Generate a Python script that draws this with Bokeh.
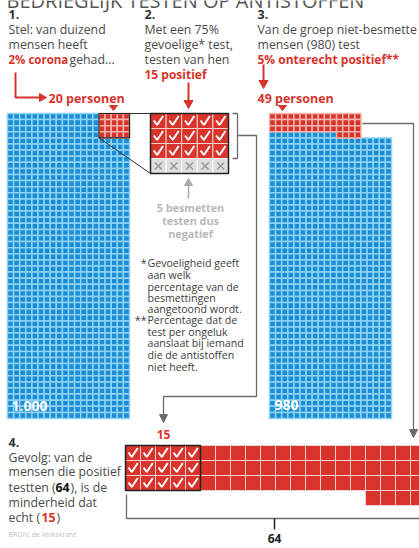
from bokeh.plotting import figure
from bokeh.models import Range1d
from bokeh.core.properties import value
from bokeh.embed import file_html
from bokeh.resources import INLINE

# ---------------- data ----------------
total_people = 1000
infected = 20
healthy = 980
true_positive = 15
false_negative = 5
false_positive = 49
all_positive = 64
grid_cols = 20
label_total = "1.000"
label_healthy = "980"
label_positive = "64"
label_tp = "15"
title = "BEDRIEGLIJK TESTEN OP ANTISTOFFEN"

RED = "#d8342b"
RED_GAP = "#f1b3ad"
BLUE = "#1c8cd4"
BLUE_GAP = "#8dd3f3"
GREY_TXT = "#4a4a4a"
LIGHT_TXT = "#b8b8b8"
LINE_GREY = "#6b6b6b"
FONT = value("Open Sans")
BODY = 12.3

p = figure(width=419, height=548, x_range=Range1d(0, 419), y_range=Range1d(548, 0),
           output_backend="svg", toolbar_location=None, min_border=0)
p.axis.visible = False
p.grid.visible = False
p.outline_line_color = None
p.background_fill_color = "white"


def cells(positions, x0, y0, cw, ch):
    xs = [x0 + (c + 0.5) * cw for c, r in positions]
    ys = [y0 + (r + 0.5) * ch for c, r in positions]
    return xs, ys


def draw_cells(positions, x0, y0, cw, ch, fill, gap, lw=1.0):
    xs, ys = cells(positions, x0, y0, cw, ch)
    p.rect(xs, ys, width=cw, height=ch, fill_color=fill, line_color=gap, line_width=lw)
    return xs, ys


def txt(x, y, s, size=BODY, color=GREY_TXT, bold=False, align="left", baseline="middle"):
    p.text([x], [y], text=[s], text_font=FONT, text_font_size=f"{size}px",
           text_color=color, text_font_style="bold" if bold else "normal",
           text_align=align, text_baseline=baseline)


# title (only its lower part is visible at the top edge, as in the original crop)
txt(6, 0, title, size=20, color="#555555", baseline="middle")

# ---------------- block 1: 1000 people ----------------
rows_total = total_people // grid_cols
inf_cols = 5
inf_rows = infected // inf_cols
inf_pos = [(grid_cols - inf_cols + i % inf_cols, i // inf_cols) for i in range(infected)]
inf_set = set(inf_pos)
rest_pos = [(c, r) for r in range(rows_total) for c in range(grid_cols) if (c, r) not in inf_set][:healthy]

C = 6.1
X1, Y1 = 7, 113
draw_cells(rest_pos, X1, Y1, C, C, BLUE, BLUE_GAP, 1.5)
draw_cells(inf_pos, X1, Y1, C, C, RED, RED_GAP, 1.5)
ix0 = X1 + (grid_cols - inf_cols) * C
p.quad(left=[ix0], right=[X1 + grid_cols * C], top=[Y1], bottom=[Y1 + inf_rows * C],
       fill_color=None, line_color="#222222", line_width=1.2)
txt(11, 405, label_total, size=14, color="white", bold=True)

# ---------------- block 3: 980 healthy ----------------
X3 = 269
fp_cols = 15
fp_full_rows = false_positive // fp_cols
fp_extra = false_positive - fp_full_rows * fp_cols
fp_pos = [(i % fp_cols, i // fp_cols) for i in range(fp_full_rows * fp_cols)]
fp_pos += [(fp_cols - fp_extra + i, fp_full_rows) for i in range(fp_extra)]
fp_set = set(fp_pos)
blue3 = [pos for pos in rest_pos if pos not in fp_set]
draw_cells(blue3, X3, Y1, C, C, BLUE, BLUE_GAP, 1.5)
draw_cells(fp_pos, X3, Y1, C, C, RED, RED_GAP, 1.5)
txt(274, 404, label_healthy, size=14, color="white", bold=True)

# ---------------- block 2: zoom of infected ----------------
ZW, ZH = 15.6, 15.0
X2, Y2 = 150, 113
tp_pos = [(i % inf_cols, i // inf_cols) for i in range(true_positive)]
fn_pos = [(i % inf_cols, true_positive // inf_cols + i // inf_cols) for i in range(false_negative)]
txs, tys = draw_cells(tp_pos, X2, Y2, ZW, ZH, RED, "#f6d0cc", 1.0)
fxs, fys = draw_cells(fn_pos, X2, Y2, ZW, ZH, "#dedede", "#ffffff", 1.0)
p.multi_line([[x - 4.5, x - 1.2, x + 4.8] for x in txs], [[y - 0.5, y + 4, y - 5] for y in tys],
             line_color="white", line_width=2)
p.multi_line([[x - 3.5, x + 3.5] for x in fxs] + [[x - 3.5, x + 3.5] for x in fxs],
             [[y - 3.5, y + 3.5] for y in fys] + [[y + 3.5, y - 3.5] for y in fys],
             line_color="#9a9a9a", line_width=1.6)
p.quad(left=[X2], right=[X2 + inf_cols * ZW], top=[Y2], bottom=[Y2 + inf_rows * ZH],
       fill_color=None, line_color="#222222", line_width=1.5)
p.multi_line([[X1 + grid_cols * C, X2], [ix0, X2]],
             [[Y1, Y2], [Y1 + inf_rows * C, Y2 + inf_rows * ZH]],
             line_color="#333333", line_width=1)

# bracket and connector to bottom
p.line([232, 237, 237, 232], [113, 113, 158, 158], line_color=LINE_GREY, line_width=1.3)
p.line([237, 256, 256, 163, 163], [135, 135, 396, 396, 416], line_color=LINE_GREY, line_width=1.3)
p.patches([[159, 167, 163]], [[414, 414, 422]], fill_color=LINE_GREY, line_color=LINE_GREY)

# up arrow (grey)
p.line([188, 188], [198, 182], line_color="#aaaaaa", line_width=1.5)
p.patches([[184, 192, 188]], [[185, 185, 178]], fill_color="#aaaaaa", line_color="#aaaaaa")

# ---------------- red pointer arrows ----------------
p.line([15, 15, 40], [72, 97, 97], line_color=RED, line_width=2)
p.patches([[39, 39, 46]], [[93, 101, 97]], fill_color=RED, line_color=RED)
p.line([188, 188], [82, 102], line_color=RED, line_width=2)
p.patches([[183.5, 192.5, 188]], [[100, 100, 108]], fill_color=RED, line_color=RED)
p.line([263, 263], [64, 82], line_color=RED, line_width=2)
p.patches([[258.5, 267.5, 263]], [[80, 80, 88]], fill_color=RED, line_color=RED)
p.patches([[109, 117, 113], [278, 286, 282]], [[105, 105, 110], [105, 105, 110]],
          fill_color=RED, line_color=RED)

# 980 -> bottom connector
p.line([362, 413, 413], [123, 123, 431], line_color=LINE_GREY, line_width=1.3)
p.patches([[409, 417, 413]], [[429, 429, 437]], fill_color=LINE_GREY, line_color=LINE_GREY)

# ---------------- block 4: 64 positives ----------------
BW = 15.0
X4, Y4 = 125, 445
tp4 = [(i % inf_cols, i // inf_cols) for i in range(true_positive)]
fp4 = [(inf_cols + c, r) for c, r in fp_pos]
draw_cells(fp4, X4, Y4, BW, BW, RED, "#f6d0cc", 1.0)
bx, by = draw_cells(tp4, X4, Y4, BW, BW, RED, "#f6d0cc", 1.0)
p.multi_line([[x - 4.5, x - 1.2, x + 4.8] for x in bx], [[y - 0.5, y + 4, y - 5] for y in by],
             line_color="white", line_width=2)
p.quad(left=[X4], right=[X4 + inf_cols * BW], top=[Y4], bottom=[Y4 + 3 * BW],
       fill_color=None, line_color="#222222", line_width=1.5)
txt(163, 434, label_tp, size=12, color=RED, bold=True, align="center")

# bracket for 64
p.line([126, 126, 419], [494, 518, 518], line_color=LINE_GREY, line_width=1.3)
p.line([274, 274], [518, 529], line_color="#222222", line_width=1.5)
txt(274, 538, label_positive, size=12, color="#222222", bold=True, align="center")

# ---------------- texts ----------------
txt(8, 14, "1.", size=12.5, color="#333333", bold=True)
txt(8, 29, "Stel: van duizend")
txt(8, 44, "mensen heeft")
txt(8, 59, "2% corona", size=11.5, color=RED, bold=True)
txt(69, 59, "gehad...")
txt(48, 98, "20 personen", size=12.5, color=RED, bold=True)

txt(144, 14, "2.", size=12.5, color="#333333", bold=True)
txt(144, 29, "Met een 75%")
txt(144, 44, "gevoelige* test,")
txt(144, 59, "testen van hen")
txt(144, 74, "15 positief", size=12, color=RED, bold=True)

txt(257, 14, "3.", size=12.5, color="#333333", bold=True)
txt(257, 29, "Van de groep niet-besmette")
txt(257, 44, "mensen (980) test")
txt(257, 59, "5% onterecht positief**", size=12, color=RED, bold=True)
txt(257, 98, "49 personen", size=12.5, color=RED, bold=True)

for yy, s in zip([207, 220, 233], ["5 besmetten", "testen dus", "negatief"]):
    txt(190, yy, s, size=10.8, color=LIGHT_TXT, bold=True, align="center")

notes = ["Gevoeligheid geeft", "aan welk", "percentage van de", "besmettingen",
         "aangetoond wordt.", "Percentage dat de", "test per ongeluk",
         "aanslaat bij iemand", "die de antistoffen", "niet heeft."]
note_y = [262, 274, 286, 297, 308, 319, 331, 342, 354, 366]
NOTE = 10.6
for yy, s in zip(note_y, notes):
    txt(147, yy, s, size=NOTE, color="#3c3c3c")
txt(146, 262, "*", size=NOTE, color="#3c3c3c", align="right")
txt(146, 319, "**", size=NOTE, color="#3c3c3c", align="right")

txt(8, 442, "4.", size=12.5, color="#333333", bold=True)
txt(8, 457, "Gevolg: van de")
txt(8, 471, "mensen die positief")
txt(8, 487, "testten (")
txt(55, 487, "64", color="#111111", bold=True)
txt(70, 487, "), is de")
txt(8, 502, "minderheid dat")
txt(8, 517, "echt (")
txt(41, 517, "15", color=RED, bold=True)
txt(56, 517, ")")

txt(8, 534, "BRON: de Volkskrant", size=7, color="#bdbdbd")

open("out.html", "w").write(file_html(p, INLINE))
